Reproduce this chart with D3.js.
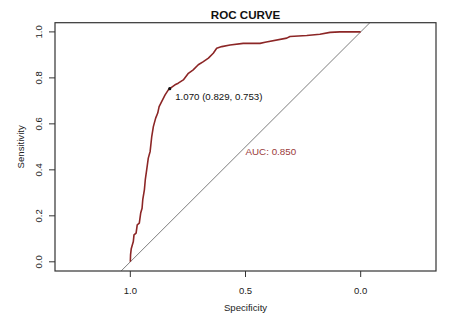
<!DOCTYPE html>
<html>
<head>
<meta charset="utf-8">
<script src="https://cdn.jsdelivr.net/npm/d3@7/dist/d3.min.js"></script>
<style>
  html, body { margin: 0; padding: 0; background: #fff; }
  svg { display: block; font-family: "Liberation Sans", Arial, sans-serif; }
</style>
</head>
<body>
<svg id="chart" width="453" height="323"></svg>
<script>
// ROC curve points: specificity and sensitivity for each threshold step
const specificity = [1.000, 0.999, 0.996, 0.987, 0.984, 0.975, 0.970, 0.961, 0.955, 0.949,
  0.946, 0.939, 0.935, 0.929, 0.922, 0.914, 0.907, 0.900, 0.890, 0.881,
  0.875, 0.864, 0.849, 0.835, 0.829, 0.806, 0.792, 0.770, 0.748, 0.727,
  0.705, 0.683, 0.661, 0.640, 0.625, 0.603, 0.567, 0.510, 0.437, 0.415,
  0.321, 0.307, 0.234, 0.177, 0.133, 0.090, 0.000];
const sensitivity = [0.000, 0.030, 0.057, 0.088, 0.117, 0.125, 0.161, 0.168, 0.212, 0.233,
  0.270, 0.313, 0.357, 0.400, 0.451, 0.480, 0.545, 0.588, 0.625, 0.647,
  0.675, 0.697, 0.726, 0.748, 0.753, 0.770, 0.777, 0.791, 0.820, 0.835,
  0.857, 0.871, 0.886, 0.907, 0.929, 0.936, 0.943, 0.950, 0.950, 0.955,
  0.973, 0.980, 0.984, 0.990, 0.998, 1.000, 1.000];

// Best threshold and its coordinates
const bestThreshold = 1.070;
const bestSpec = 0.829;
const bestSens = 0.753;
const auc = 0.850;

const xTicks = [1.0, 0.5, 0.0];
const yTicks = [0.0, 0.2, 0.4, 0.6, 0.8, 1.0];

const svg = d3.select("#chart");
const box = { left: 55, right: 436, top: 22.7, bottom: 271 };

// Equal aspect: specificity axis reversed and widened to keep 1:1 units
const x = d3.scaleLinear().domain([1.327, -0.327]).range([box.left, box.right]);
const y = d3.scaleLinear().domain([-0.04, 1.04]).range([box.bottom, box.top]);

svg.append("defs").append("clipPath").attr("id", "plotclip")
  .append("rect")
  .attr("x", box.left).attr("y", box.top)
  .attr("width", box.right - box.left).attr("height", box.bottom - box.top);

const plot = svg.append("g").attr("clip-path", "url(#plotclip)");

// Chance diagonal across the whole plotting region
plot.append("line")
  .attr("x1", x(1.04)).attr("y1", y(-0.04))
  .attr("x2", x(-0.04)).attr("y2", y(1.04))
  .attr("stroke", "#6e6e6e").attr("stroke-width", 0.9);

const pts = specificity.map((s, i) => [s, sensitivity[i]]);
plot.append("path")
  .datum(pts)
  .attr("fill", "none")
  .attr("stroke", "#8c2626")
  .attr("stroke-width", 1.6)
  .attr("stroke-linejoin", "round")
  .attr("d", d3.line().x(d => x(d[0])).y(d => y(d[1])));

// Best threshold marker and label
svg.append("circle")
  .attr("cx", x(bestSpec)).attr("cy", y(bestSens)).attr("r", 1.6)
  .attr("fill", "#111");
svg.append("text")
  .attr("x", x(bestSpec) + 5.5).attr("y", y(bestSens) + 11.5)
  .attr("font-size", 9.7).attr("fill", "#111")
  .text(`${bestThreshold.toFixed(3)} (${bestSpec.toFixed(3)}, ${bestSens.toFixed(3)})`);

// AUC label
svg.append("text")
  .attr("x", x(0.5)).attr("y", y(0.478) + 3.5)
  .attr("font-size", 9.8).attr("fill", "#9a3a3a")
  .text(`AUC: ${auc.toFixed(3)}`);

// Frame
svg.append("rect")
  .attr("x", box.left).attr("y", box.top)
  .attr("width", box.right - box.left).attr("height", box.bottom - box.top)
  .attr("fill", "none").attr("stroke", "#333").attr("stroke-width", 1.2);

// X axis ticks and labels
const xg = svg.append("g");
xg.selectAll("line").data(xTicks).join("line")
  .attr("x1", d => x(d)).attr("x2", d => x(d))
  .attr("y1", box.bottom).attr("y2", box.bottom + 6)
  .attr("stroke", "#333").attr("stroke-width", 1);
xg.selectAll("text").data(xTicks).join("text")
  .attr("x", d => x(d)).attr("y", 294)
  .attr("text-anchor", "middle").attr("font-size", 9.5).attr("fill", "#222")
  .text(d => d.toFixed(1));

// Y axis ticks and labels (rotated, as in base graphics)
const yg = svg.append("g");
yg.selectAll("line").data(yTicks).join("line")
  .attr("x1", box.left).attr("x2", box.left - 6)
  .attr("y1", d => y(d)).attr("y2", d => y(d))
  .attr("stroke", "#333").attr("stroke-width", 1);
yg.selectAll("text").data(yTicks).join("text")
  .attr("transform", d => `translate(41.8,${y(d)}) rotate(-90)`)
  .attr("text-anchor", "middle").attr("font-size", 9.5).attr("fill", "#222")
  .text(d => d.toFixed(1));

// Titles
svg.append("text")
  .attr("x", (box.left + box.right) / 2).attr("y", 19)
  .attr("text-anchor", "middle").attr("font-size", 11.6).attr("font-weight", "bold")
  .attr("fill", "#111")
  .text("ROC CURVE");
svg.append("text")
  .attr("x", (box.left + box.right) / 2).attr("y", 311)
  .attr("text-anchor", "middle").attr("font-size", 9.6).attr("fill", "#222")
  .text("Specificity");
svg.append("text")
  .attr("transform", `translate(23.5,${(box.top + box.bottom) / 2}) rotate(-90)`)
  .attr("text-anchor", "middle").attr("font-size", 9.6).attr("fill", "#222")
  .text("Sensitivity");
</script>
</body>
</html>
